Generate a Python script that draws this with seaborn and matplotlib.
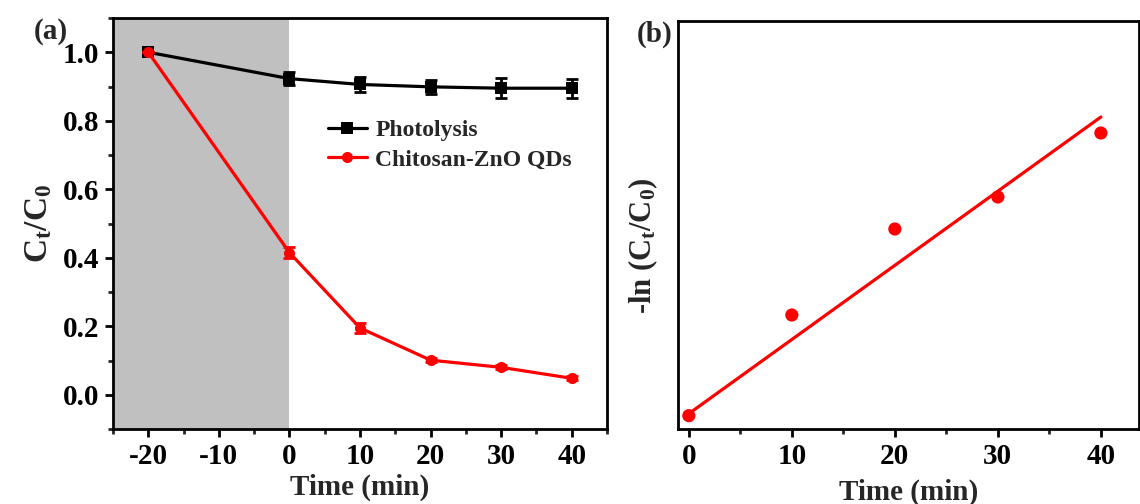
import numpy as np
import pandas as pd
import matplotlib
matplotlib.use("Agg")
import matplotlib.pyplot as plt
from matplotlib.ticker import MultipleLocator, NullLocator
import seaborn as sns

# ---------------- data ----------------
time_a = [-20, 0, 10, 20, 30, 40]
photolysis = [1.0, 0.923, 0.906, 0.899, 0.895, 0.895]
photolysis_err = [0.0, 0.018, 0.022, 0.02, 0.03, 0.028]
chitosan = [1.0, 0.415, 0.195, 0.101, 0.080, 0.048]
chitosan_err = [0.0, 0.016, 0.015, 0.006, 0.006, 0.006]
series_names = ["Photolysis", "Chitosan-ZnO QDs"]

time_b = [0, 10, 20, 30, 40]
neg_ln = [0.0, 0.755, 1.40, 1.64, 2.12]
fit_x = [0, 40]
fit_y = [0.015, 2.24]

# ---------------- style ----------------
sns.set_theme(style="ticks")
plt.rcParams["font.family"] = ["Liberation Serif", "DejaVu Serif"]
plt.rcParams["font.weight"] = "bold"
plt.rcParams["axes.unicode_minus"] = False
plt.rcParams["mathtext.fontset"] = "custom"
plt.rcParams["mathtext.rm"] = "Liberation Serif:bold"
plt.rcParams["mathtext.bf"] = "Liberation Serif:bold"
plt.rcParams["mathtext.it"] = "Liberation Serif:bold"

fig = plt.figure(figsize=(11.4, 5.04), dpi=100)
ax1 = fig.add_axes([113/1140, 75/504, 494/1140, 411/504])
ax2 = fig.add_axes([678/1140, 75/504, 461/1140, 408/504])

tick_fs = 21
label_fs = 21

# ---------------- panel (a) ----------------
ax1.axvspan(-25, 0, color="#c0c0c0", lw=0, zorder=0)
df_a = pd.DataFrame({
    "time": time_a * 2,
    "value": photolysis + chitosan,
    "series": [series_names[0]] * len(time_a) + [series_names[1]] * len(time_a),
})
sns.lineplot(data=df_a, x="time", y="value", hue="series", style="series",
             palette={series_names[0]: "black", series_names[1]: "#ff0000"},
             markers={series_names[0]: "s", series_names[1]: "o"},
             dashes=False, markersize=8, markeredgewidth=0, linewidth=2.3,
             ax=ax1, zorder=3)
ax1.errorbar(time_a, photolysis, yerr=photolysis_err, fmt="none", ecolor="black",
             elinewidth=2, capsize=4, capthick=2, zorder=4)
ax1.errorbar(time_a, chitosan, yerr=chitosan_err, fmt="none", ecolor="#ff0000",
             elinewidth=2, capsize=4, capthick=2, zorder=4)

ax1.set_xlim(-25, 45)
ax1.set_ylim(-0.1, 1.1)
ax1.xaxis.set_minor_locator(MultipleLocator(5))
ax1.set_xticks([-20, -10, 0, 10, 20, 30, 40])
ax1.yaxis.set_minor_locator(MultipleLocator(0.1))
ax1.set_yticks([0.0, 0.2, 0.4, 0.6, 0.8, 1.0])
ax1.set_yticklabels(["0.0", "0.2", "0.4", "0.6", "0.8", "1.0"])
ax1.set_xlabel("Time (min)", fontsize=label_fs, fontweight="bold", labelpad=3)
ax1.set_ylabel(r"$\mathbf{C_t/C_0}$", fontsize=label_fs + 3, labelpad=6)

leg = ax1.legend(loc="upper left", bbox_to_anchor=(0.435, 0.752), frameon=False,
                 fontsize=17, handlelength=1.65, handletextpad=0.35,
                 labelspacing=0.32, borderpad=0, borderaxespad=0)
for t in leg.get_texts():
    t.set_fontweight("bold")
ax1.text(-0.125, 1.0, "(a)", transform=ax1.transAxes, fontsize=21,
         fontweight="bold", ha="center", va="top")

# ---------------- panel (b) ----------------
df_b = pd.DataFrame({"time": time_b, "value": neg_ln})
df_fit = pd.DataFrame({"time": fit_x, "value": fit_y})
sns.lineplot(data=df_fit, x="time", y="value", color="#ff0000", linewidth=2.3, ax=ax2)
sns.scatterplot(data=df_b, x="time", y="value", color="#ff0000", s=90,
                edgecolor="none", ax=ax2, zorder=3)
ax2.set_xlim(-1.05, 43.7)
ax2.set_ylim(-0.1, 2.96)
ax2.set_xticks([0, 10, 20, 30, 40])
ax2.xaxis.set_minor_locator(MultipleLocator(5))
ax2.yaxis.set_major_locator(NullLocator())
ax2.set_xlabel("Time (min)", fontsize=label_fs, fontweight="bold", labelpad=6)
ax2.set_ylabel(r"-ln (C$\mathbf{_t}$/C$\mathbf{_0}$)", fontsize=label_fs + 1,
               fontweight="bold")
ax2.yaxis.set_label_coords(-0.038, 0.45)
ax2.text(-0.05, 1.0, "(b)", transform=ax2.transAxes, fontsize=21,
         fontweight="bold", ha="center", va="top")

for ax in (ax1, ax2):
    for sp in ax.spines.values():
        sp.set_linewidth(2.0)
        sp.set_color("black")
    ax.tick_params(axis="both", which="major", direction="out", length=6, width=2,
                   labelsize=tick_fs, colors="black", pad=4)
    ax.tick_params(axis="both", which="minor", direction="out", length=3.5, width=2)
    ax.tick_params(top=False, right=False, which="both")
    for lab in ax.get_xticklabels() + ax.get_yticklabels():
        lab.set_fontweight("bold")
    ax.set_facecolor("white")

fig.savefig("out.png", dpi=100, facecolor="white")
